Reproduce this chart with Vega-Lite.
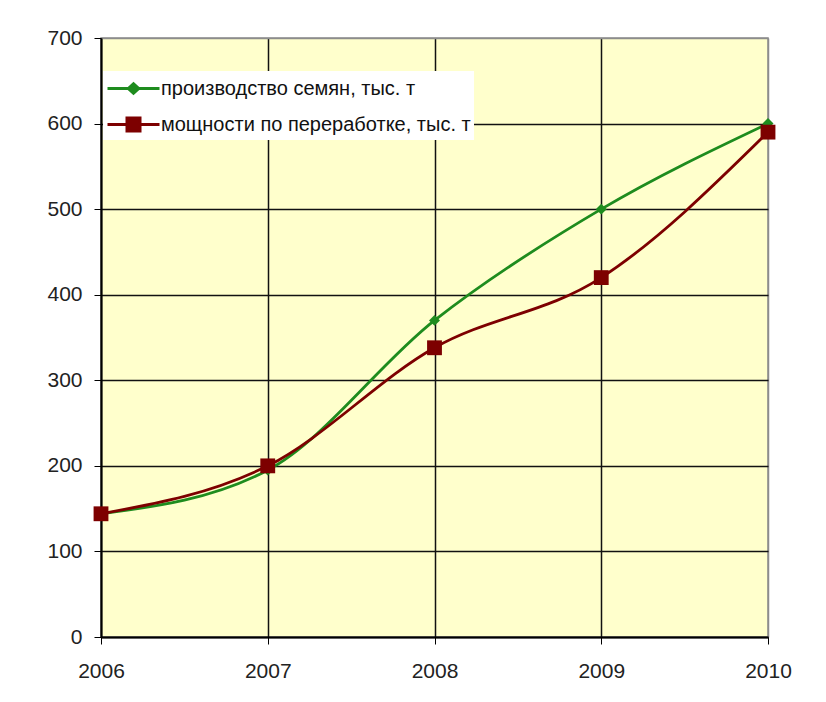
{
  "$schema": "https://vega.github.io/schema/vega-lite/v6.json",
  "width": 667,
  "height": 599,
  "autosize": {"type": "none"},
  "padding": {"left": 101, "top": 38, "right": 58, "bottom": 65},
  "background": "white",
  "config": {
    "view": {"fill": "#FFFFCC", "stroke": "#8c8c8c", "strokeWidth": 1.5},
    "font": "Liberation Sans"
  },
  "data": {
    "values": [
      {"year": 2006, "value": 144, "series": "производство семян, тыс. т"},
      {"year": 2007, "value": 195, "series": "производство семян, тыс. т"},
      {"year": 2008, "value": 370, "series": "производство семян, тыс. т"},
      {"year": 2009, "value": 500, "series": "производство семян, тыс. т"},
      {"year": 2010, "value": 600, "series": "производство семян, тыс. т"},
      {"year": 2006, "value": 144, "series": "мощности по переработке, тыс. т"},
      {"year": 2007, "value": 200, "series": "мощности по переработке, тыс. т"},
      {"year": 2008, "value": 338, "series": "мощности по переработке, тыс. т"},
      {"year": 2009, "value": 420, "series": "мощности по переработке, тыс. т"},
      {"year": 2010, "value": 590, "series": "мощности по переработке, тыс. т"}
    ]
  },
  "encoding": {
    "x": {
      "field": "year",
      "type": "quantitative",
      "scale": {"domain": [2006, 2010], "nice": false, "zero": false},
      "axis": {
        "title": null,
        "values": [2006, 2007, 2008, 2009, 2010],
        "format": "d",
        "labelFontSize": 21,
        "labelColor": "#222",
        "labelPadding": 16,
        "tickSize": 7,
        "tickColor": "#000",
        "domainColor": "#000",
        "domainWidth": 2,
        "grid": true,
        "gridColor": {"condition": {"test": "datum.value == 2010", "value": "#8c8c8c"}, "value": "#111"},
        "gridWidth": 1.5,
        "labelFlush": false
      }
    },
    "y": {
      "field": "value",
      "type": "quantitative",
      "scale": {"domain": [0, 700], "nice": false},
      "axis": {
        "title": null,
        "values": [0, 100, 200, 300, 400, 500, 600, 700],
        "labelFontSize": 21,
        "labelColor": "#222",
        "labelPadding": 12,
        "tickSize": 7,
        "tickColor": "#000",
        "domainColor": "#000",
        "domainWidth": 2,
        "grid": true,
        "gridColor": {"condition": {"test": "datum.value == 700", "value": "#8c8c8c"}, "value": "#111"},
        "gridWidth": 1.5
      }
    }
  },
  "layer": [
    {
      "mark": {"type": "line", "interpolate": "monotone", "strokeWidth": 2.8},
      "encoding": {
        "color": {
          "field": "series",
          "type": "nominal",
          "sort": null,
          "scale": {
            "domain": ["производство семян, тыс. т", "мощности по переработке, тыс. т"],
            "range": ["#1e8c1e", "#7d0000"]
          },
          "legend": {
            "title": null,
            "orient": "none",
            "legendX": 2,
            "legendY": 33,
            "padding": 3,
            "fillColor": "white",
            "strokeColor": null,
            "labelFont": "Liberation Sans",
            "labelFontSize": 20,
            "labelColor": "#111",
            "labelLimit": 500,
            "symbolSize": 676,
            "symbolStrokeWidth": 3,
            "symbolOffset": 13,
            "labelOffset": 13,
            "rowPadding": 10,
            "symbolType": "M-2,0H2",
            "encode": {
              "symbols": {
                "update": {
                  "shape": {"signal": "datum.value === 'производство семян, тыс. т' ? 'M-2,0H2M-0.4,0L0,-0.36L0.4,0L0,0.36Z' : 'M-2,0H2M-0.5,-0.5H0.5V0.5H-0.5Z'"},
                  "fill": {"scale": "color", "field": "value"},
                  "stroke": {"scale": "color", "field": "value"},
                  "strokeWidth": {"value": 3},
                  "strokeOpacity": {"value": 1},
                  "opacity": {"value": 1}
                }
              }
            }
          }
        }
      }
    },
    {
      "transform": [{"filter": "datum.series === 'производство семян, тыс. т'"}],
      "mark": {"type": "point", "filled": true, "opacity": 1, "shape": "diamond", "size": 120},
      "encoding": {
        "color": {"field": "series", "type": "nominal", "legend": null}
      }
    },
    {
      "transform": [{"filter": "datum.series === 'мощности по переработке, тыс. т'"}],
      "mark": {"type": "point", "filled": true, "opacity": 1, "shape": "square", "size": 220},
      "encoding": {
        "color": {"field": "series", "type": "nominal", "legend": null}
      }
    }
  ]
}
